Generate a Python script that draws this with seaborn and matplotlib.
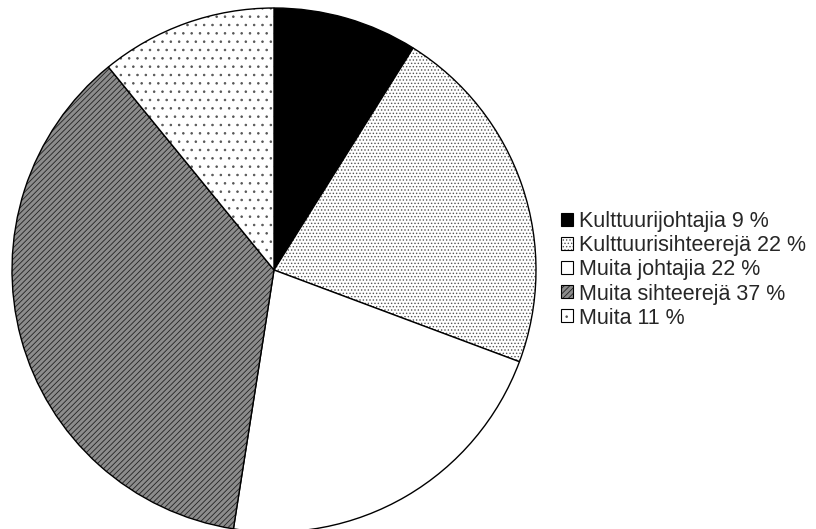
import numpy as np
import pandas as pd
import matplotlib.pyplot as plt
import matplotlib.colors as mcolors
import seaborn as sns

labels = ['Kulttuurijohtajia 9 %', 'Kulttuurisihteerejä 22 %', 'Muita johtajia 22 %',
          'Muita sihteerejä 37 %', 'Muita 11 %']
values = [9, 22, 22, 37, 11]

sns.set_style("white")
plt.rcParams['font.family'] = ['Liberation Sans', 'DejaVu Sans']
plt.rcParams['hatch.linewidth'] = 0.6

colors = ['black', 'white', 'white', '#8c8c8c', 'white']
hatches = [None, '.....', None, '//////', '..']
hatch_cols = ['black', '#555555', 'black', '#222222', '#555555']

fig = plt.figure(figsize=(8.16, 5.29), dpi=100)
ax = fig.add_axes([(274 - 262) / 816, (259 - 262) / 529, 524 / 816, 524 / 529])
wedges, _ = ax.pie(values, colors=colors, startangle=90, counterclock=False,
                   wedgeprops=dict(edgecolor='black', linewidth=1.0))
for w, h, hc in zip(wedges, hatches, hatch_cols):
    if h:
        w.set_hatch(h)
        w._hatch_color = mcolors.to_rgba(hc)
ax.set_aspect('equal')
ax.set_xlim(-1.0, 1.0)
ax.set_ylim(-1.0, 1.0)

leg = fig.legend(wedges, labels, loc='center left', bbox_to_anchor=(561 / 816, 1 - 270 / 529),
                 frameon=False, fontsize=15.5, handlelength=0.55, handleheight=0.55,
                 handletextpad=0.3, labelspacing=0.14, borderpad=0, borderaxespad=0)
for p, hc in zip(leg.get_patches(), hatch_cols):
    p._hatch_color = mcolors.to_rgba(hc)
    p.set_linewidth(0.8)

plt.savefig('out.png', dpi=100)
